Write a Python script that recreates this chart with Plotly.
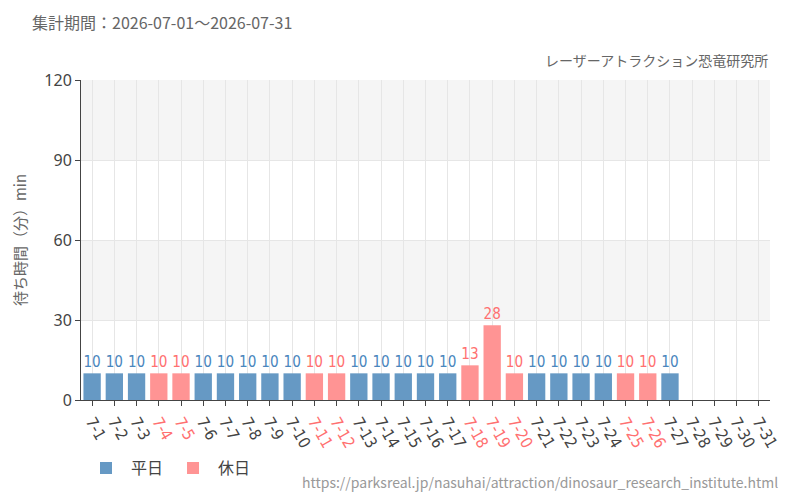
import plotly.graph_objects as go

days = [f"7-{d}" for d in range(1, 32)]
holidays = ["7-4", "7-5", "7-11", "7-12", "7-18", "7-19", "7-20", "7-25", "7-26"]
values = [10, 10, 10, 10, 10, 10, 10, 10, 10, 10,
          10, 10, 10, 10, 10, 10, 10, 13, 28, 10,
          10, 10, 10, 10, 10, 10, 10, None, None, None, None]
y_ticks = [0, 30, 60, 90, 120]

BLUE = "#6699c4"
PINK = "#ff9494"
BLUE_TXT = "#4a86bd"
PINK_TXT = "#ff7070"
COND = "DejaVu Sans Condensed, Liberation Sans Narrow, Roboto"

wd_x, wd_y, hd_x, hd_y = [], [], [], []
for d, v in zip(days, values):
    if v is None:
        continue
    if d in holidays:
        hd_x.append(d); hd_y.append(v)
    else:
        wd_x.append(d); wd_y.append(v)

fig = go.Figure()
fig.add_trace(go.Bar(x=wd_x, y=wd_y, name="平日", marker_color=BLUE, marker_line_width=0,
                     text=wd_y, textposition="outside", cliponaxis=False,
                     textfont=dict(color=BLUE_TXT, size=17, family=COND),
                     width=0.78))
fig.add_trace(go.Bar(x=hd_x, y=hd_y, name="休日", marker_color=PINK, marker_line_width=0,
                     text=hd_y, textposition="outside", cliponaxis=False,
                     textfont=dict(color=PINK_TXT, size=17, family=COND),
                     width=0.78))

# alternating bands
for y0, y1 in [(30, 60), (90, 120)]:
    fig.add_shape(type="rect", xref="paper", yref="y", x0=0, x1=1, y0=y0, y1=y1,
                  fillcolor="#f5f5f5", line_width=0, layer="below")

ticktext = [f'<span style="color:{PINK_TXT}">{d}</span>' if d in holidays else d for d in days]

fig.update_layout(
    width=800, height=500, barmode="overlay",
    paper_bgcolor="white", plot_bgcolor="white",
    margin=dict(l=81, r=30, t=80, b=100),
    font=dict(family="Noto Sans CJK JP, Noto Sans", color="#444"),
    showlegend=True,
    legend=dict(orientation="h", x=0.0, y=-0.16, xanchor="left", yanchor="top",
                font=dict(size=16, color="#444"), itemwidth=40),
    bargap=0.2,
)
fig.update_xaxes(categoryorder="array", categoryarray=days, tickmode="array",
                 tickvals=days, ticktext=ticktext, tickangle=60,
                 tickfont=dict(size=16, color="#444", family=COND),
                 showline=True, linecolor="#444", linewidth=1,
                 ticks="outside", ticklen=5, tickcolor="#444",
                 showgrid=True, gridcolor="#e6e6e6", range=[-0.5, 30.5])
fig.update_yaxes(range=[0, 120], tickvals=y_ticks,
                 tickfont=dict(size=16, color="#444", family="Noto Sans"),
                 showline=True, linecolor="#444", linewidth=1,
                 ticks="outside", ticklen=5, tickcolor="#444",
                 showgrid=True, gridcolor="#e6e6e6", zeroline=False,
                 title=dict(text="待ち時間（分）min", font=dict(size=15, color="#666"), standoff=14))

fig.add_annotation(text="集計期間：2026-07-01～2026-07-31", xref="paper", yref="paper",
                   x=-51/689, y=1 + 58/320, xanchor="left", yanchor="middle", showarrow=False,
                   font=dict(size=16, color="#666"))
fig.add_annotation(text="レーザーアトラクション恐竜研究所", xref="paper", yref="paper",
                   x=1, y=1 + 8/320, xanchor="right", yanchor="bottom", showarrow=False,
                   font=dict(size=14, color="#666"))
fig.add_annotation(text="https://parksreal.jp/nasuhai/attraction/dinosaur_research_institute.html",
                   xref="paper", yref="paper", x=1 + 10/689, y=-82/320, xanchor="right",
                   yanchor="middle", showarrow=False, font=dict(size=14, color="#999"))

fig.write_html("out.html")
